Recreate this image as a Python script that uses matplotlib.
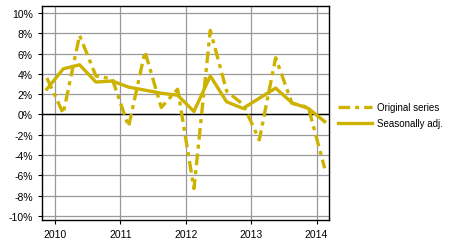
import numpy as np
import matplotlib.pyplot as plt

# quarterly data, Q4 2009 .. Q1 2014 (plotted at mid-quarter)
quarters = np.arange(2009.875, 2014.2, 0.25)
original = [3.6, 0.1, 7.8, 3.8, 3.5, -1.2, 6.2, 0.7, 2.5, -7.3,
            8.3, 2.3, 1.0, -2.5, 5.6, 1.1, 0.7, -5.3]
seas_adj = [2.5, 4.5, 4.9, 3.2, 3.3, 2.7, 2.4, 2.1, 1.9, 0.3,
            3.8, 1.25, 0.6, 1.6, 2.6, 1.15, 0.6, -0.7]
years = [2010, 2011, 2012, 2013, 2014]
yticks = list(range(-10, 11, 2))

plt.rcParams['font.family'] = ['Liberation Sans', 'DejaVu Sans']
gold = '#CDB200'

fig = plt.figure(figsize=(4.54, 2.53), dpi=100)
ax = fig.add_axes([0.0925, 0.1265, 0.632, 0.846])

ax.plot(quarters, original, color=gold, lw=2.4, dashes=[3.5, 1.5, 1.2, 1.5],
        label='Original series')
ax.plot(quarters, seas_adj, color=gold, lw=2.4, label='Seasonally adj.')
ax.axhline(0, color='black', lw=1, zorder=1.5)

ax.set_xlim(2009.8, 2014.19)
ax.set_ylim(-10.4, 10.7)
ax.set_xticks(years)
ax.set_xticklabels([str(y) for y in years])
ax.set_yticks(yticks)
ax.set_yticklabels([f'{v}%' for v in yticks])
ax.grid(True, color='#999999', lw=0.9)
ax.set_axisbelow(True)
ax.tick_params(labelsize=7.5, length=3, width=0.8, color='black')
for s in ax.spines.values():
    s.set_linewidth(1)

ax.legend(loc='center left', bbox_to_anchor=(1.0, 0.49), frameon=False,
          fontsize=7, handlelength=3.5, handletextpad=0.5, labelspacing=0.6)

fig.savefig('out.png', dpi=100)
